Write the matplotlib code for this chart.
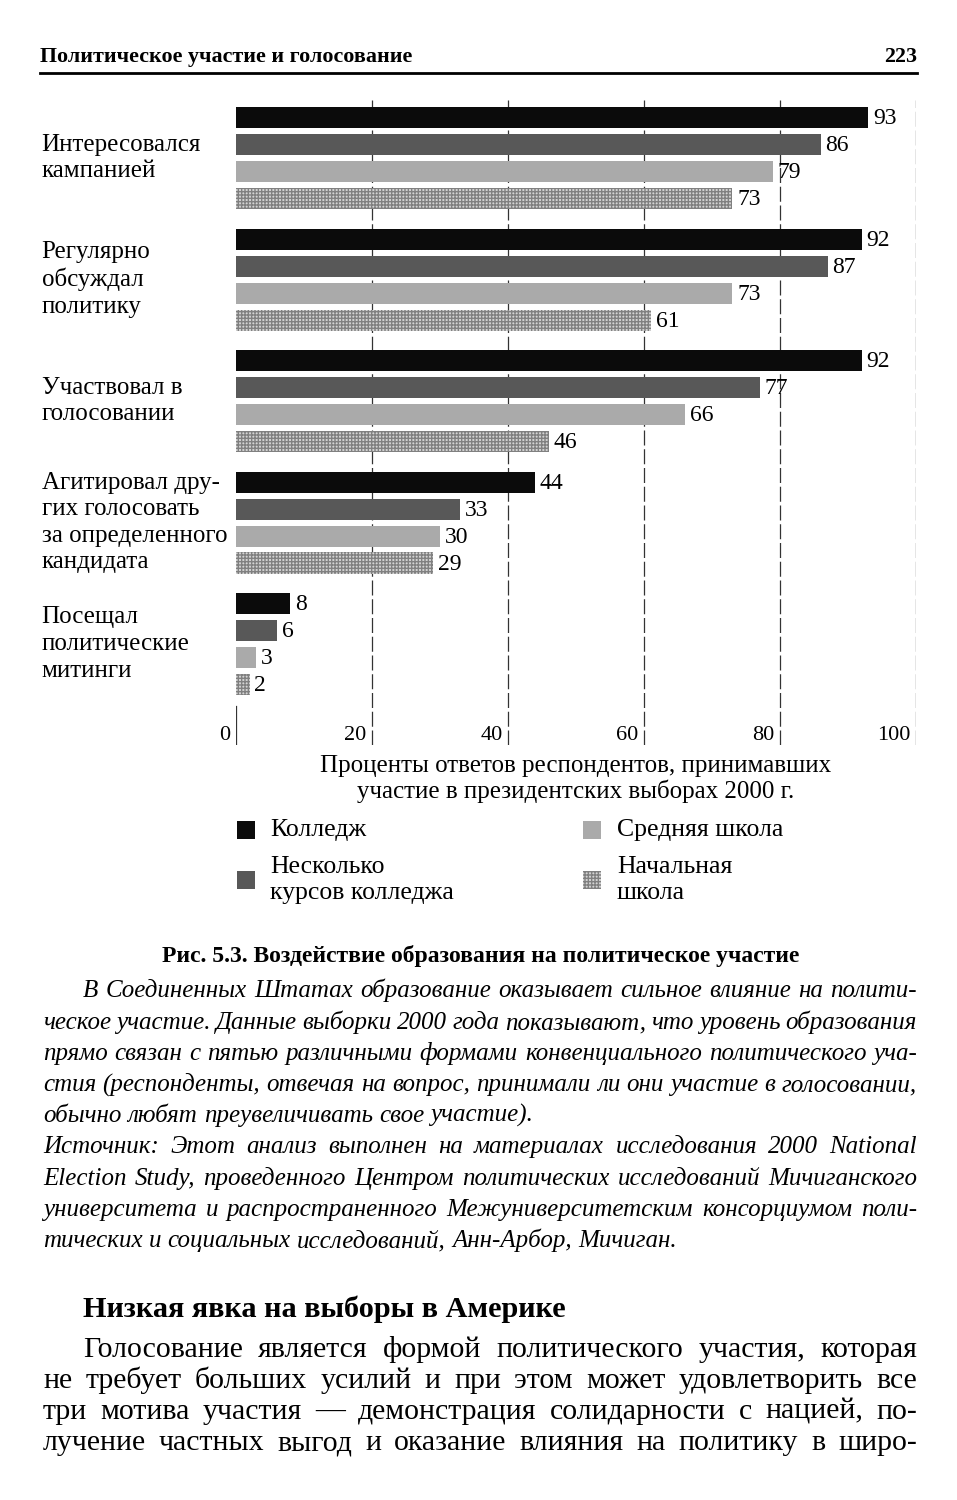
import numpy as np
import matplotlib.pyplot as plt
from matplotlib.patches import Rectangle

plt.rcParams['font.family'] = ['Liberation Serif', 'DejaVu Serif']

categories = ['Интересовался\nкампанией',
              'Регулярно\nобсуждал\nполитику',
              'Участвовал в\nголосовании',
              'Агитировал дру-\nгих голосовать\nза определенного\nкандидата',
              'Посещал\nполитические\nмитинги']
series = ['Колледж', 'Несколько\nкурсов колледжа', 'Средняя школа', 'Начальная\nшкола']
college = [93, 92, 92, 44, 8]
some_college = [86, 87, 77, 33, 6]
high_school = [79, 73, 66, 30, 3]
grade_school = [73, 61, 46, 29, 2]
ticks = [0, 20, 40, 60, 80, 100]

header = 'Политическое участие и голосование'
page_no = '223'
xlabel = 'Проценты ответов респондентов, принимавших\nучастие в президентских выборах 2000 г.'
fig_title = 'Рис. 5.3. Воздействие образования на политическое участие'
caption = [
    'В Соединенных Штатах образование оказывает сильное влияние на полити-',
    'ческое участие. Данные выборки 2000 года показывают, что уровень образования',
    'прямо связан с пятью различными формами конвенциального политического уча-',
    'стия (респонденты, отвечая на вопрос, принимали ли они участие в голосовании,',
    'обычно любят преувеличивать свое участие).',
    'Источник: Этот анализ выполнен на материалах исследования 2000 National',
    'Election Study, проведенного Центром политических исследований Мичиганского',
    'университета и распространенного Межуниверситетским консорциумом поли-',
    'тических и социальных исследований, Анн-Арбор, Мичиган.',
]
section = 'Низкая явка на выборы в Америке'
body = [
    'Голосование является формой политического участия, которая',
    'не требует больших усилий и при этом может удовлетворить все',
    'три мотива участия — демонстрация солидарности с нацией, по-',
    'лучение частных выгод и оказание влияния на политику в широ-',
]

W, H = 957, 1500
fig = plt.figure(figsize=(W / 100, H / 100), dpi=100)
renderer = fig.canvas.get_renderer()


def fx(x):
    return x / W


def fy(y):
    return 1 - y / H


def justify(line, x0, x1, y, full=True, **kw):
    words = line.split(' ')
    texts = [fig.text(fx(x0), fy(y), w, va='baseline', ha='left', **kw) for w in words]
    widths = [t.get_window_extent(renderer).width for t in texts]
    if full and len(words) > 1:
        gap = (x1 - x0 - sum(widths)) / (len(words) - 1)
    else:
        sp = fig.text(0, 0, 'a a', **kw)
        sp2 = fig.text(0, 0, 'aa', **kw)
        gap = sp.get_window_extent(renderer).width - sp2.get_window_extent(renderer).width
        sp.remove()
        sp2.remove()
    x = x0
    for t, w in zip(texts, widths):
        t.set_x(fx(x))
        x += w + gap


# header
fig.text(fx(40), fy(62), header, fontsize=15.8, fontweight='bold', va='baseline')
fig.text(fx(917), fy(62), page_no, fontsize=15.8, fontweight='bold', va='baseline', ha='right')
fig.add_artist(plt.Line2D([fx(40), fx(917)], [fy(73), fy(73)], color='black', lw=2))

# chart
ax = fig.add_axes([fx(236), fy(745), fx(916) - fx(236), 645 / H])
step = 4.5
ypos = np.arange(len(categories)) * step
h = 0.78
colors = ['#0b0b0b', '#585858', '#aaaaaa', '#d4d4d4']
data = [college, some_college, high_school, grade_school]
for j, vals in enumerate(data):
    kw = dict(color=colors[j], height=h, zorder=3)
    if j == 3:
        kw.update(edgecolor='#808080', hatch='+++++', linewidth=0)
    ax.barh(ypos + j, vals, **kw)
    for y, v in zip(ypos + j, vals):
        ax.text(v + 0.7, y + 0.05, str(v), va='center', ha='left', fontsize=17)

for i, cat in enumerate(categories):
    ax.text(-28.6, ypos[i] + 1.5, cat, va='center', ha='left', fontsize=18,
            linespacing=1.27, clip_on=False)

ax.set_xlim(0, 100)
ax.set_ylim(23.24, -0.65)
for t in ticks[1:]:
    ax.axvline(t, color='#333333', lw=0.9, ls=(0, (12, 3)), zorder=1)
ax.plot([0, 0], [ypos[-1] + 3.8, 23.24], color='#333333', lw=0.9)
for t in ticks:
    ax.text(t - 0.8, 22.9, str(t), ha='right', va='center', fontsize=16)
ax.axis('off')

fig.text(fx(576), fy(779), xlabel, ha='center', va='center', fontsize=18, linespacing=1.17)

# legend
leg_pos = [(237, 830, 270), (237, 880, 270), (583, 830, 617), (583, 880, 617)]
for j, (sx, sy, tx) in enumerate(leg_pos):
    kw = dict(facecolor=colors[j], edgecolor='none')
    if j == 3:
        kw.update(edgecolor='#808080', hatch='+++++', linewidth=0)
    fig.add_artist(Rectangle((fx(sx), fy(sy + 9)), 18 / W, 18 / H,
                             transform=fig.transFigure, **kw))
    fig.text(fx(tx), fy(sy), series[j], ha='left', va='center', fontsize=18.5, linespacing=1.23)

# caption
fig.text(fx(481), fy(962), fig_title, ha='center', va='baseline', fontsize=17, fontweight='bold')
cap_y = [997, 1029, 1060, 1091, 1122, 1153, 1185, 1216, 1247]
for k, (line, y) in enumerate(zip(caption, cap_y)):
    x0 = 83 if k == 0 else 43
    justify(line, x0, 917, y, full=k not in (4, 8), fontsize=18, style='italic')

fig.text(fx(83), fy(1317), section, fontsize=21.8, fontweight='bold', va='baseline')
body_y = [1357, 1388, 1419, 1450]
for k, (line, y) in enumerate(zip(body, body_y)):
    x0 = 83 if k == 0 else 43
    justify(line, x0, 917, y, fontsize=21.5)

fig.savefig('out.png', dpi=100)
